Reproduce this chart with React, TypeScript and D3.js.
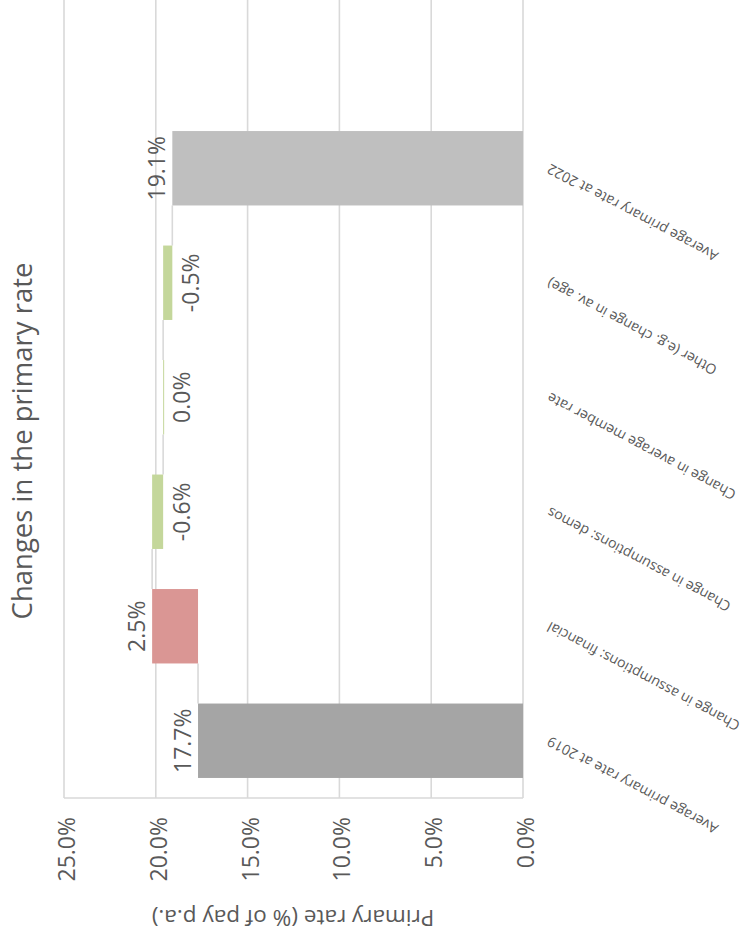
import React from "react";
import * as d3 from "d3";

const categories = [
  "Average primary rate at 2019",
  "Change in assumptions: financial",
  "Change in assumptions: demos",
  "Change in average member rate",
  "Other (e.g. change in av. age)",
  "Average primary rate at 2022",
];
const values = [17.7, 2.5, -0.6, 0.0, -0.5, 19.1];
const kinds = ["total", "delta", "delta", "delta", "delta", "total"];
const tickValues = [0, 5, 10, 15, 20, 25];
const chartTitle = "Changes in the primary rate";
const axisTitle = "Primary rate (% of pay p.a.)";

const W = 750;
const H = 934;
const FONT = "'Open Sans', 'Noto Sans', sans-serif";
const TEXT = "#595959";
const GRID = "#d9d9d9";

export default function App() {
  const x = d3.scaleLinear().domain([0, 25]).range([523, 64]);
  const y = d3
    .scaleBand<string>()
    .domain(categories)
    .range([798, 111])
    .paddingInner(0.35)
    .paddingOuter(0.175);
  const bw = y.bandwidth();

  // waterfall computation
  let run = 0;
  const bars = categories.map((c, i) => {
    let start: number, end: number;
    if (kinds[i] === "total") {
      start = 0;
      end = values[i];
    } else {
      start = run;
      end = run + values[i];
    }
    run = end;
    return { c, i, v: values[i], start, end, kind: kinds[i] };
  });

  const color = (b: any) => {
    if (b.kind === "total") return b.i === 0 ? "#a5a5a5" : "#bfbfbf";
    return b.v > 0 ? "#da9694" : "#c4d79b";
  };

  return (
    <svg
      width={W}
      height={H}
      style={{ position: "absolute", left: 0, top: 0, background: "#fff" }}
      fontFamily={FONT}
    >
      {/* gridlines */}
      {tickValues.map((t) => (
        <line
          key={"g" + t}
          x1={x(t)}
          x2={x(t)}
          y1={0}
          y2={798}
          stroke={GRID}
          strokeWidth={1.6}
        />
      ))}
      <line x1={x(25)} x2={x(0)} y1={798} y2={798} stroke={GRID} strokeWidth={1.6} />

      {/* connectors */}
      {bars.slice(0, -1).map((b, k) => {
        const nb = bars[k + 1];
        const yTop = y(b.c)!;
        const yNextBottom = y(nb.c)! + bw;
        return (
          <line
            key={"c" + k}
            x1={x(b.end)}
            x2={x(b.end)}
            y1={yTop}
            y2={yNextBottom}
            stroke={GRID}
            strokeWidth={1.6}
          />
        );
      })}

      {/* bars */}
      {bars.map((b) => {
        const x0 = Math.min(x(b.start), x(b.end));
        const x1 = Math.max(x(b.start), x(b.end));
        return (
          <rect
            key={"b" + b.i}
            x={x0}
            y={y(b.c)}
            width={Math.max(x1 - x0, 1)}
            height={bw}
            fill={color(b)}
          />
        );
      })}

      {/* data labels */}
      {bars.map((b) => {
        const cy = y(b.c)! + bw / 2;
        const left = Math.min(x(b.start), x(b.end));
        const right = Math.max(x(b.start), x(b.end));
        const pos = b.v > 0;
        const px = pos ? left - 7 : right + 10;
        return (
          <text
            key={"l" + b.i}
            transform={`translate(${px},${cy}) rotate(-90)`}
            textAnchor="middle"
            dy={pos ? 0 : "0.72em"}
            fontSize={23}
            fill={TEXT}
          >
            {b.v.toFixed(1) + "%"}
          </text>
        );
      })}

      {/* value axis tick labels */}
      {tickValues.map((t) => (
        <text
          key={"t" + t}
          transform={`translate(${x(t) + 11},817) rotate(-90)`}
          textAnchor="end"
          fontSize={23}
          fill={TEXT}
        >
          {t.toFixed(1) + "%"}
        </text>
      ))}

      {/* category labels */}
      {categories.map((c) => (
        <text
          key={"cat" + c}
          transform={`translate(548,${y(c)! + bw / 2}) rotate(208)`}
          textAnchor="end"
          dominantBaseline="central"
          fontSize={14.1}
          fill={TEXT}
        >
          {c}
        </text>
      ))}

      {/* axis title */}
      <text
        transform={`translate(293,910) rotate(180)`}
        textAnchor="middle"
        fontSize={22.5}
        fill={TEXT}
      >
        {axisTitle}
      </text>

      {/* chart title */}
      <text
        transform={`translate(32,441) rotate(-90)`}
        textAnchor="middle"
        fontSize={27.5}
        fill={TEXT}
      >
        {chartTitle}
      </text>
    </svg>
  );
}
